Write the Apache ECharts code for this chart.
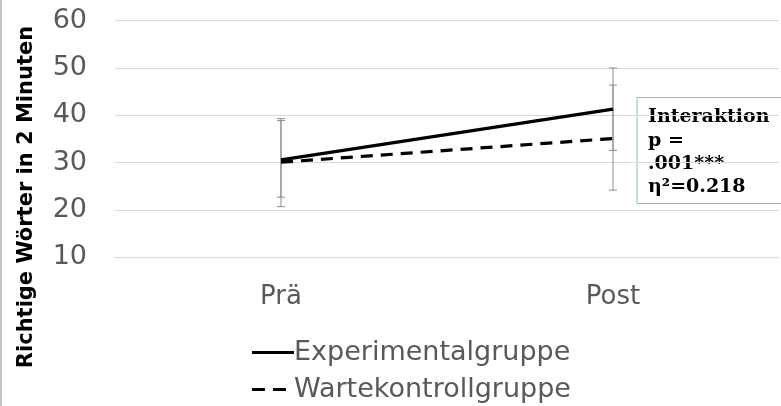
<!DOCTYPE html>
<html>
<head>
<meta charset="utf-8">
<script src="https://cdn.jsdelivr.net/npm/echarts@6/dist/echarts.min.js"></script>
<style>
html,body{margin:0;padding:0;background:#fff;}
#chart{width:781px;height:406px;}
</style>
</head>
<body>
<div id="chart"></div>
<script>
var categories = ['Prä', 'Post'];
var seriesNames = ['Experimentalgruppe', 'Wartekontrollgruppe'];
var expMean = [30.6, 41.3];
var ctrlMean = [30.1, 35.1];
var expLow = [22.7, 32.6];
var expHigh = [38.9, 50.0];
var ctrlLow = [20.7, 24.2];
var ctrlHigh = [39.3, 46.4];
var yTicks = [10, 20, 30, 40, 50, 60];
var yAxisTitle = 'Richtige Wörter in 2 Minuten';
var annotationLines = ['Interaktion', 'p =', '.001***', 'η²=0.218'];

var errData = [];
for (var i = 0; i < categories.length; i++) {
  errData.push([i, expLow[i], expHigh[i]]);
  errData.push([i, ctrlLow[i], ctrlHigh[i]]);
}

var chart = echarts.init(document.getElementById('chart'));
var labelFont = 'DejaVu Sans, Verdana, sans-serif';

function renderErr(params, api) {
  var x = api.value(0);
  var lo = api.coord([x, api.value(1)]);
  var hi = api.coord([x, api.value(2)]);
  var hw = 4;
  var style = {stroke: '#8c8c8c', lineWidth: 1};
  return {
    type: 'group',
    children: [
      {type: 'line', shape: {x1: lo[0], y1: lo[1], x2: hi[0], y2: hi[1]}, style: style},
      {type: 'line', shape: {x1: lo[0] - hw, y1: lo[1], x2: lo[0] + hw, y2: lo[1]}, style: style},
      {type: 'line', shape: {x1: hi[0] - hw, y1: hi[1], x2: hi[0] + hw, y2: hi[1]}, style: style}
    ]
  };
}

var textChildren = annotationLines.map(function (t, k) {
  return {
    type: 'text',
    left: 648,
    top: 108 + k * 23.3,
    style: {text: t, font: 'bold 19px "DejaVu Serif", serif', fill: '#000'}
  };
});

var legendIcons = ['path://M0,0h42v3h-42z', 'path://M0,0h13v3h-13zM21,0h13v3h-13z'];
function makeLegend(k, top) {
  return {
    orient: 'vertical',
    left: 247,
    top: top,
    itemWidth: k === 0 ? 42 : 34,
    itemHeight: 3,
    itemGap: 0,
    textStyle: {color: '#595959', fontSize: 27, fontFamily: labelFont, padding: [0, 0, 0, k === 0 ? -5 : 3]},
    data: [{name: seriesNames[k], icon: legendIcons[k], itemStyle: {color: '#000'}}]
  };
}

chart.setOption({
  animation: false,
  backgroundColor: '#fff',
  grid: {left: 115, right: 2, top: 20.7, bottom: 148.7, containLabel: false},
  xAxis: {
    type: 'category',
    data: categories,
    boundaryGap: true,
    axisLine: {show: true, lineStyle: {color: '#d9d9d9', width: 1}},
    axisTick: {show: false},
    axisLabel: {color: '#595959', fontSize: 26, fontFamily: labelFont, margin: 27}
  },
  yAxis: {
    type: 'value',
    min: yTicks[0],
    max: yTicks[yTicks.length - 1],
    interval: 10,
    axisLine: {show: false},
    axisTick: {show: false},
    splitLine: {lineStyle: {color: '#d9d9d9', width: 1}},
    axisLabel: {color: '#595959', fontSize: 27, fontFamily: labelFont, margin: 28}
  },
  legend: [makeLegend(0, 334), makeLegend(1, 371)],
  series: [
    {
      type: 'custom',
      renderItem: renderErr,
      data: errData,
      z: 1,
      silent: true
    },
    {
      name: seriesNames[0],
      type: 'line',
      data: expMean,
      symbol: 'none',
      lineStyle: {color: '#000', width: 3.2, type: 'solid'},
      itemStyle: {color: '#000'},
      z: 3
    },
    {
      name: seriesNames[1],
      type: 'line',
      data: ctrlMean,
      symbol: 'none',
      lineStyle: {color: '#000', width: 3.2, type: [12, 8]},
      itemStyle: {color: '#000'},
      z: 3
    }
  ],
  graphic: [
    {type: 'rect', left: 0, top: 0, shape: {x: 0, y: 0, width: 2, height: 406}, style: {fill: '#c4c4c4'}},
    {
      type: 'text',
      x: 27,
      y: 197,
      rotation: Math.PI / 2,
      style: {text: yAxisTitle, font: 'bold 21px "DejaVu Sans", Verdana, sans-serif', fill: '#000', align: 'center', verticalAlign: 'middle'}
    },
    {
      type: 'rect',
      shape: {x: 637, y: 97.5, width: 160, height: 106},
      style: {fill: 'none', stroke: '#86c99a', lineWidth: 1}
    }
  ].concat(textChildren)
});
</script>
</body>
</html>
